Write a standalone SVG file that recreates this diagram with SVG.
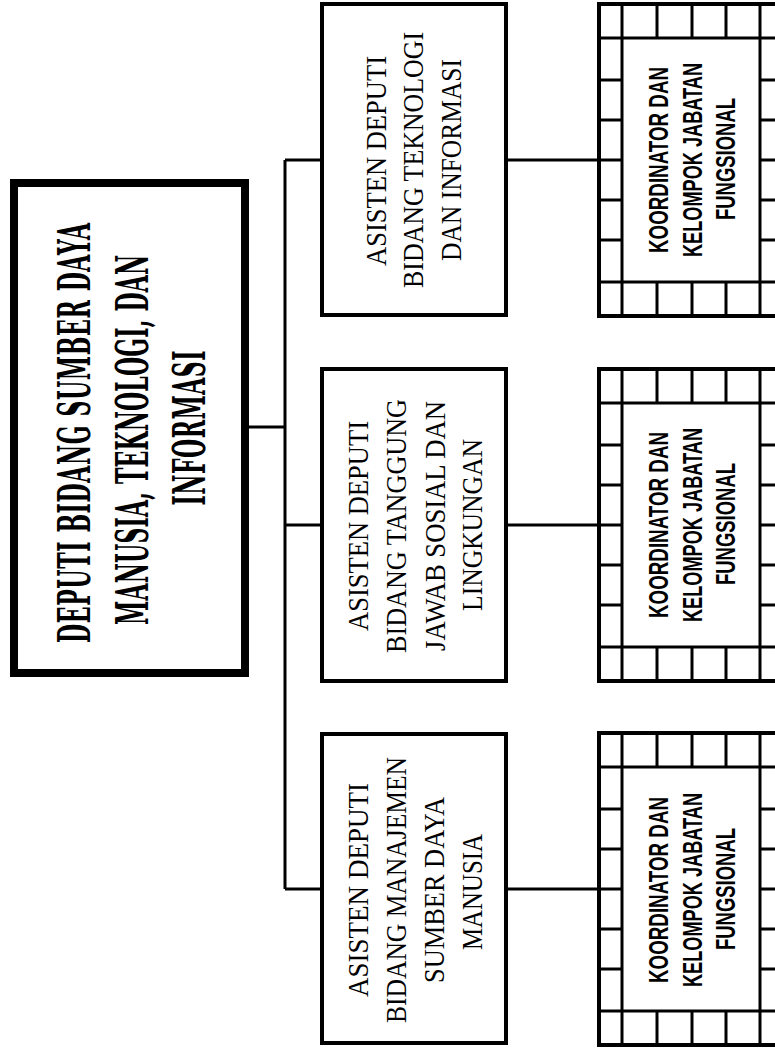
<svg xmlns="http://www.w3.org/2000/svg" xmlns:xlink="http://www.w3.org/1999/xlink" width="775" height="1052" viewBox="0 0 775 1052">
<style>
.bg{fill:#fff}
.main{fill:#fff;stroke:#000;stroke-width:8}
.box{fill:#fff;stroke:#000;stroke-width:4}
.conn{fill:none;stroke:#000;stroke-width:3}
.gl{fill:none;stroke:#000;stroke-width:3}
.go{fill:none;stroke:#000;stroke-width:4}
.tm{font-family:"DejaVu Serif","Liberation Serif",serif;font-weight:bold;font-size:22px;fill:#000}
.ts{font-family:"Liberation Serif","Times New Roman",serif;font-size:27px;fill:#000}
.tg{font-family:"Liberation Sans",Arial,sans-serif;font-weight:bold;font-size:18.5px;fill:#000}
</style>
<defs>
<g id="gridframe">
<rect class="go" x="599" y="2" width="220" height="312"/>
<path class="gl" d="M597 36H800M597 280H800M622 0V314M760 0V314M657 0V36M692 0V36M726 0V36M657 280V314M692 280V314M726 280V314M597 78H622M597 118H622M597 158H622M597 198H622M597 238H622M760 78H800M760 118H800M760 158H800M760 198H800M760 238H800"/>
</g>
</defs>
<rect class="bg" x="0" y="0" width="775" height="1052"/>
<g id="connectors">
<path class="conn" d="M249 427H285M285 160V889M285 160H321M285 525H321M285 889H321"/>
<path class="conn" d="M507 160H598M507 525H598M507 889H598"/>
</g>
<g id="deputi">
<rect class="main" x="14" y="183" width="231" height="490"/>
<text class="tm" transform="translate(90,433) rotate(-90) scale(1,2.05)" text-anchor="middle" textLength="420" lengthAdjust="spacing">DEPUTI BIDANG SUMBER DAYA</text>
<text class="tm" transform="translate(148,440) rotate(-90) scale(1,2.05)" text-anchor="middle" textLength="370" lengthAdjust="spacing">MANUSIA, TEKNOLOGI, DAN</text>
<text class="tm" transform="translate(205,428) rotate(-90) scale(1,2.05)" text-anchor="middle" textLength="155" lengthAdjust="spacing">INFORMASI</text>
</g>
<g id="asdep-ti">
<rect class="box" x="322" y="4" width="184" height="311"/>
<text class="ts" transform="translate(386,161) rotate(-90) scale(1,1.13)" text-anchor="middle" textLength="210" lengthAdjust="spacingAndGlyphs">ASISTEN DEPUTI</text>
<text class="ts" transform="translate(423,160) rotate(-90) scale(1,1.13)" text-anchor="middle" textLength="256" lengthAdjust="spacingAndGlyphs">BIDANG TEKNOLOGI</text>
<text class="ts" transform="translate(461,160) rotate(-90) scale(1,1.13)" text-anchor="middle" textLength="202" lengthAdjust="spacingAndGlyphs">DAN INFORMASI</text>
</g>
<g id="asdep-tjsl">
<rect class="box" x="322" y="369" width="184" height="312"/>
<text class="ts" transform="translate(368,526) rotate(-90) scale(1,1.13)" text-anchor="middle" textLength="210" lengthAdjust="spacingAndGlyphs">ASISTEN DEPUTI</text>
<text class="ts" transform="translate(406,526) rotate(-90) scale(1,1.13)" text-anchor="middle" textLength="254" lengthAdjust="spacingAndGlyphs">BIDANG TANGGUNG</text>
<text class="ts" transform="translate(445,526) rotate(-90) scale(1,1.13)" text-anchor="middle" textLength="250" lengthAdjust="spacingAndGlyphs">JAWAB SOSIAL DAN</text>
<text class="ts" transform="translate(482,525) rotate(-90) scale(1,1.13)" text-anchor="middle" textLength="172" lengthAdjust="spacingAndGlyphs">LINGKUNGAN</text>
</g>
<g id="asdep-msdm">
<rect class="box" x="322" y="734" width="184" height="309"/>
<text class="ts" transform="translate(368,890) rotate(-90) scale(1,1.13)" text-anchor="middle" textLength="214" lengthAdjust="spacingAndGlyphs">ASISTEN DEPUTI</text>
<text class="ts" transform="translate(406,890) rotate(-90) scale(1,1.13)" text-anchor="middle" textLength="266" lengthAdjust="spacingAndGlyphs">BIDANG MANAJEMEN</text>
<text class="ts" transform="translate(444,890) rotate(-90) scale(1,1.13)" text-anchor="middle" textLength="186" lengthAdjust="spacingAndGlyphs">SUMBER DAYA</text>
<text class="ts" transform="translate(482,892) rotate(-90) scale(1,1.13)" text-anchor="middle" textLength="116" lengthAdjust="spacingAndGlyphs">MANUSIA</text>
</g>
<g id="kjf-ti">
<use xlink:href="#gridframe" href="#gridframe" transform="translate(0,2)"/>
<text class="tg" transform="translate(668,160) rotate(-90) scale(1,1.5)" text-anchor="middle" textLength="186" lengthAdjust="spacingAndGlyphs">KOORDINATOR DAN</text>
<text class="tg" transform="translate(702,160) rotate(-90) scale(1,1.5)" text-anchor="middle" textLength="194" lengthAdjust="spacingAndGlyphs">KELOMPOK JABATAN</text>
<text class="tg" transform="translate(735,159) rotate(-90) scale(1,1.5)" text-anchor="middle" textLength="122" lengthAdjust="spacingAndGlyphs">FUNGSIONAL</text>
</g>
<g id="kjf-tjsl">
<use xlink:href="#gridframe" href="#gridframe" transform="translate(0,367)"/>
<text class="tg" transform="translate(668,525) rotate(-90) scale(1,1.5)" text-anchor="middle" textLength="186" lengthAdjust="spacingAndGlyphs">KOORDINATOR DAN</text>
<text class="tg" transform="translate(702,525) rotate(-90) scale(1,1.5)" text-anchor="middle" textLength="194" lengthAdjust="spacingAndGlyphs">KELOMPOK JABATAN</text>
<text class="tg" transform="translate(735,524) rotate(-90) scale(1,1.5)" text-anchor="middle" textLength="122" lengthAdjust="spacingAndGlyphs">FUNGSIONAL</text>
</g>
<g id="kjf-msdm">
<use xlink:href="#gridframe" href="#gridframe" transform="translate(0,731)"/>
<text class="tg" transform="translate(668,890) rotate(-90) scale(1,1.5)" text-anchor="middle" textLength="186" lengthAdjust="spacingAndGlyphs">KOORDINATOR DAN</text>
<text class="tg" transform="translate(702,890) rotate(-90) scale(1,1.5)" text-anchor="middle" textLength="194" lengthAdjust="spacingAndGlyphs">KELOMPOK JABATAN</text>
<text class="tg" transform="translate(735,889) rotate(-90) scale(1,1.5)" text-anchor="middle" textLength="122" lengthAdjust="spacingAndGlyphs">FUNGSIONAL</text>
</g>
</svg>
